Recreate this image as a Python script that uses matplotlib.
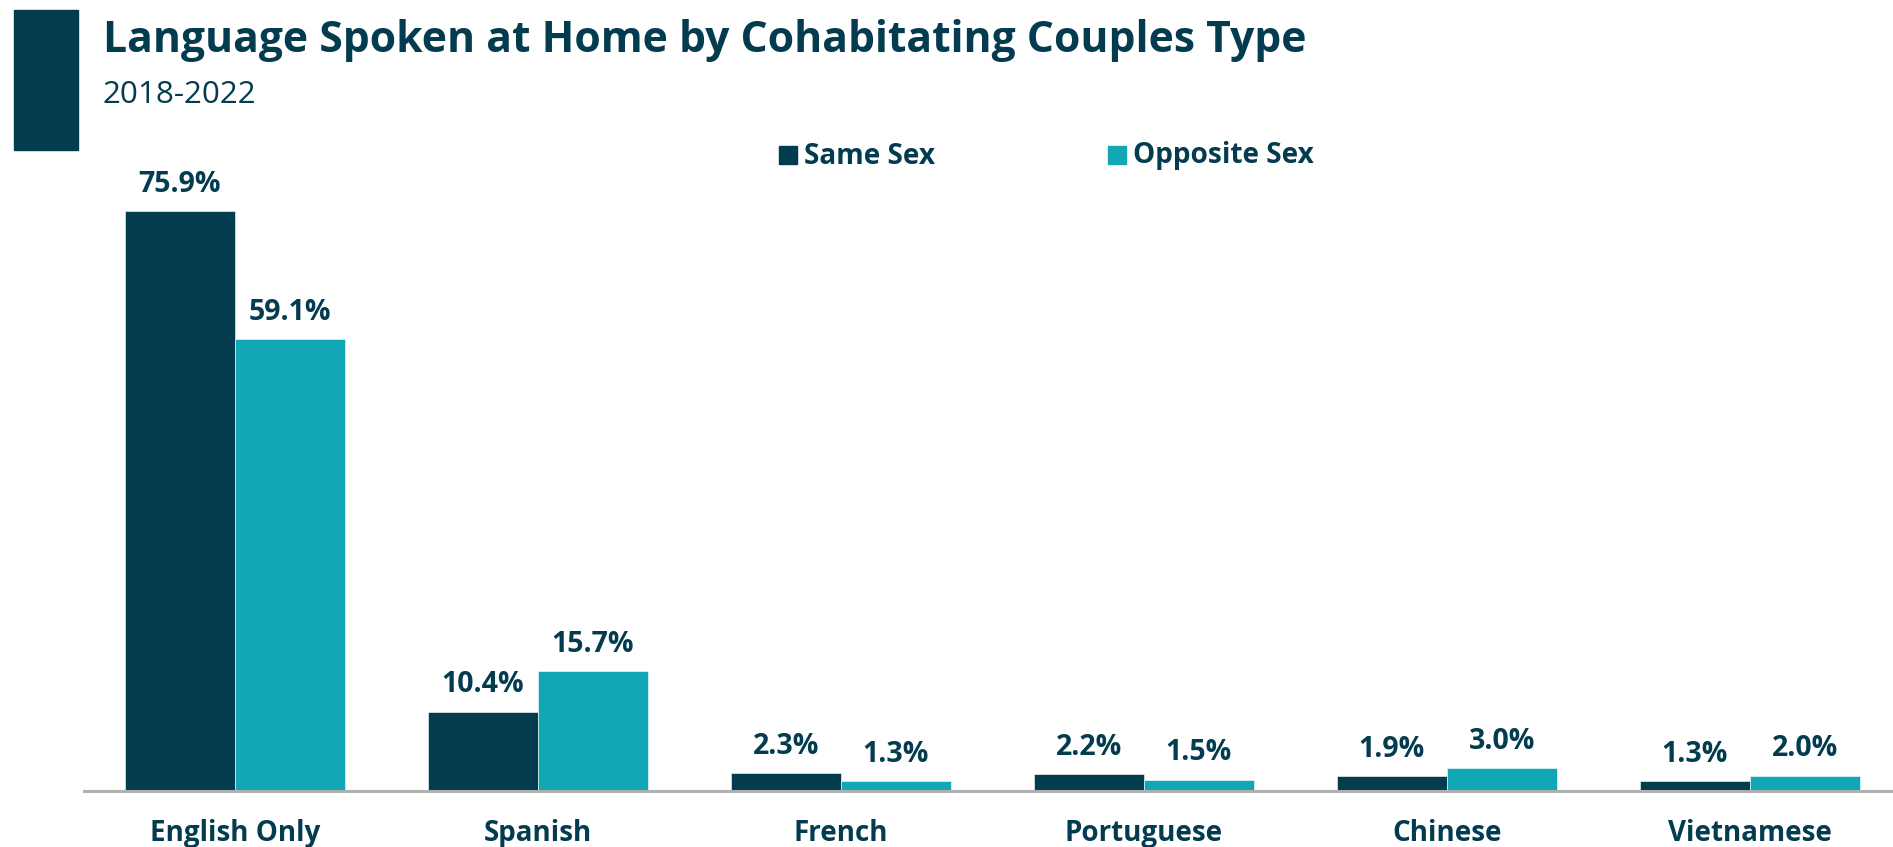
import matplotlib.pyplot as plt
import numpy as np
from matplotlib.patches import Rectangle

# Datos
categories = ["English Only", "Spanish", "French", "Portuguese", "Chinese", "Vietnamese"]
same_sex = [75.9, 10.4, 2.3, 2.2, 1.9, 1.3]
opposite_sex = [59.1, 15.7, 1.3, 1.5, 3.0, 2.0]
series_names = ["Same Sex", "Opposite Sex"]

DARK = "#033B4F"
TEAL = "#11A7B4"
TXT = "#033B4F"

W, H = 1893, 847
plt.rcParams['font.family'] = ['Open Sans', 'DejaVu Sans']

fig = plt.figure(figsize=(W / 100, H / 100), dpi=100)
fig.patch.set_facecolor('white')

# Barra lateral del titulo
fig.patches.append(Rectangle((14 / W, 1 - 150 / H), 64 / W, 140 / H,
                             transform=fig.transFigure, color=DARK, zorder=0))
fig.text(103 / W, 1 - 41 / H, "Language Spoken at Home by Cohabitating Couples Type",
         fontsize=30.7, fontweight='bold', color=TXT, va='center', ha='left')
fig.text(103 / W, 1 - 95 / H, "2018-2022", fontsize=22.6, color=TXT, va='center', ha='left')

# Ejes
ax = fig.add_axes([84 / W, (H - 791) / H, (W - 84) / W, (791 - 170) / H])
x = np.arange(len(categories))
w = 0.363
b1 = ax.bar(x - w / 2, same_sex, w, color=DARK, edgecolor='white', linewidth=0.4)
b2 = ax.bar(x + w / 2, opposite_sex, w, color=TEAL, edgecolor='white', linewidth=0.4)

for bars, vals in [(b1, same_sex), (b2, opposite_sex)]:
    for r, v in zip(bars, vals):
        ax.annotate(f"{v:.1f}%", (r.get_x() + r.get_width() / 2, v),
                    xytext=(0, 27), textcoords='offset pixels',
                    ha='center', va='center', fontsize=20.5, fontweight='bold', color=TXT)

ax.set_xlim(-0.498, 5.472)
ax.set_ylim(0, 621 / 7.64)
ax.set_xticks(x)
ax.set_xticklabels(categories, fontsize=20, fontweight='bold', color=TXT)
ax.tick_params(axis='x', length=0, pad=20)
ax.set_yticks([])
for s in ['top', 'right', 'left']:
    ax.spines[s].set_visible(False)
ax.spines['bottom'].set_color('#B0B0B0')
ax.spines['bottom'].set_linewidth(2.2)

# Leyenda
leg_x = [779, 1108]
for name, col, lx in zip(series_names, [DARK, TEAL], leg_x):
    fig.patches.append(Rectangle((lx / W, 1 - 164 / H), 18 / W, 18 / H,
                                 transform=fig.transFigure, color=col))
    fig.text((lx + 25) / W, 1 - 156 / H, name, fontsize=20.2, fontweight='bold',
             color=TXT, va='center', ha='left')

plt.savefig("out.png", dpi=100)
plt.close()
